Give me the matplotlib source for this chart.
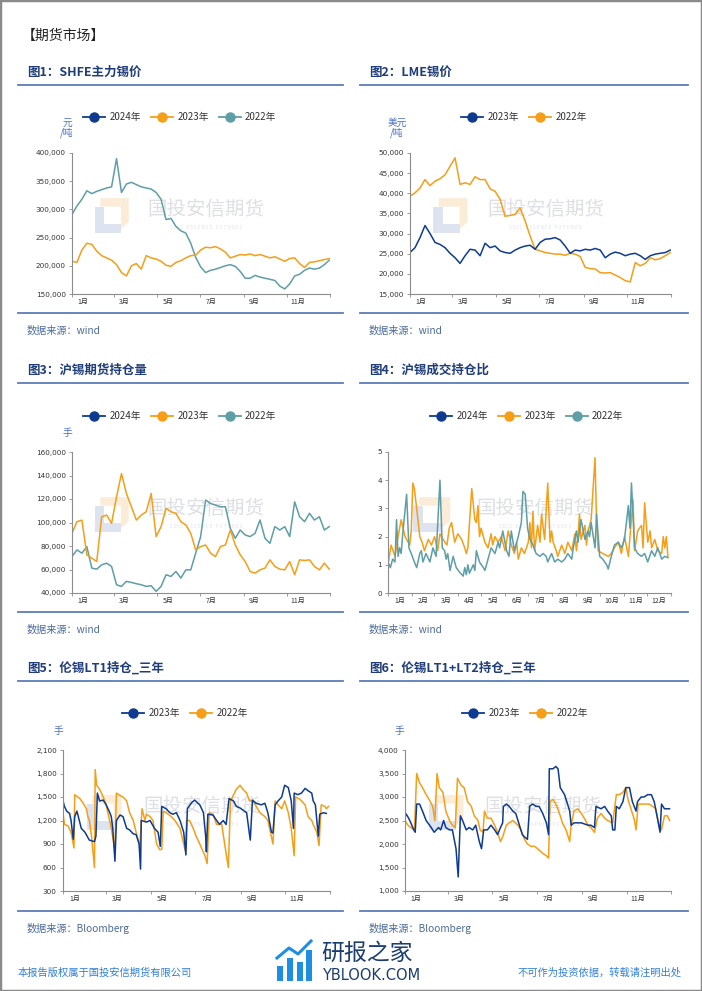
import numpy as np
import matplotlib
matplotlib.use("Agg")
import matplotlib.pyplot as plt
from matplotlib.lines import Line2D
from matplotlib.patches import Rectangle, Polygon

plt.rcParams['font.family'] = ['Noto Sans CJK SC', 'DejaVu Sans']

W, H = 702, 991
NAVY = '#0e3b8f'
ORANGE = '#f59e18'
TEAL = '#5e9ea6'
TITLE_C = '#1f3d7a'
RULE_C = '#5a7db5'
SRC_C = '#4b6b9b'

MONTH_START = [0, 31, 59, 90, 120, 151, 181, 212, 243, 273, 304, 334, 365]
MONTHS = ['1月', '2月', '3月', '4月', '5月', '6月', '7月', '8月', '9月', '10月', '11月', '12月']

# ---- fig 1: SHFE main tin price, weekly, thousand yuan/t
shfe_2023 = [208, 206, 228, 240, 238, 226, 218, 214, 210, 202, 188, 182, 200, 204, 194, 218, 214, 212,
             208, 201, 199, 206, 209, 214, 218, 219, 228, 233, 232, 234, 230, 224, 214, 217, 220, 219,
             221, 218, 220, 217, 214, 216, 212, 208, 213, 214, 204, 197, 206, 207, 209, 211, 213]
shfe_2022 = [291, 306, 318, 333, 328, 332, 335, 338, 340, 390, 330, 345, 348, 344, 340, 338, 336, 330,
             318, 282, 284, 270, 262, 258, 240, 215, 198, 188, 192, 194, 197, 200, 202, 199, 190, 178,
             178, 183, 180, 178, 176, 174, 164, 159, 168, 182, 185, 192, 196, 194, 196, 202, 210]
shfe_2024 = []

# ---- fig 2: LME tin, weekly, thousand USD/t
lme_2023 = [25.3, 26.5, 29.0, 32.0, 30.0, 27.8, 27.3, 26.5, 25.1, 24.0, 22.6, 24.5, 26.1, 25.9, 24.5,
            27.6, 26.5, 26.9, 25.7, 25.3, 25.1, 25.9, 26.5, 26.9, 27.1, 26.1, 27.8, 28.6, 28.7, 29.0,
            28.4, 26.9, 25.1, 25.9, 25.7, 26.1, 25.9, 26.3, 25.9, 24.0, 24.9, 25.4, 25.1, 24.5, 24.9,
            25.1, 24.5, 23.6, 24.5, 24.9, 25.1, 25.3, 25.9]
lme_2022 = [39.3, 40.1, 41.3, 43.4, 41.9, 43.0, 43.6, 44.6, 46.7, 48.8, 42.2, 42.6, 42.2, 44.1, 43.4,
            43.4, 41.1, 40.5, 38.5, 34.3, 34.5, 34.8, 36.4, 33.1, 29.4, 26.1, 25.7, 25.3, 25.1, 24.9,
            24.9, 24.6, 25.1, 24.9, 24.3, 21.6, 21.3, 21.2, 20.3, 20.2, 20.3, 19.7, 19.1, 18.3, 18.0,
            22.8, 22.0, 22.6, 24.0, 23.5, 23.8, 24.5, 25.3]

# ---- fig 3: SHFE tin open interest, weekly, thousand lots
oi_2023 = [90.8, 100.7, 102.0, 72.5, 69.6, 66.8, 104.9, 106.3, 99.3, 121.9, 141.6, 124.7, 113.4, 102.1,
           106.3, 109.2, 124.7, 88.0, 96.5, 112.0, 109.2, 107.8, 100.7, 97.9, 90.8, 76.7, 79.5, 80.9,
           73.9, 71.0, 79.5, 80.9, 93.6, 80.9, 72.5, 66.8, 58.3, 56.9, 59.7, 61.2, 68.2, 62.6, 60.3,
           59.7, 66.8, 55.5, 68.2, 67.7, 68.2, 62.6, 59.7, 65.4, 60.3]
oi_2022 = [71.0, 76.7, 73.9, 79.5, 61.2, 60.3, 64.0, 65.4, 62.6, 47.0, 45.6, 49.9, 49.0, 47.9, 47.0,
           45.6, 46.2, 41.4, 45.6, 55.5, 54.1, 58.3, 52.7, 59.7, 59.7, 73.9, 88.0, 119.1, 116.2, 114.8,
           113.4, 113.4, 95.0, 86.6, 93.6, 89.4, 88.0, 90.8, 102.1, 86.6, 82.3, 96.5, 93.6, 96.5, 88.0,
           117.6, 104.9, 100.7, 107.8, 102.1, 104.9, 93.6, 96.5]
oi_2024 = []

# ---- fig 4: volume / open interest ratio, (day of year, value)
vr_2023 = [(0, 1.0), (4, 1.7), (9, 1.3), (13, 2.0), (17, 2.6), (22, 2.0), (26, 1.8), (28, 1.7), (30, 2.2),
           (32, 3.9), (34, 3.7), (37, 3.0), (41, 2.0), (44, 1.8), (47, 1.5), (52, 1.9), (56, 1.7), (60, 2.0),
           (64, 1.5), (67, 2.1), (71, 1.9), (76, 1.7), (79, 2.3), (82, 2.5), (86, 1.8), (90, 2.1), (95, 1.9),
           (99, 1.6), (101, 1.4), (103, 1.6), (108, 3.7), (112, 2.6), (114, 2.5), (116, 3.1), (118, 2.0),
           (120, 2.3), (125, 1.8), (129, 1.6), (133, 2.1), (135, 1.7), (138, 2.0), (142, 1.8), (146, 2.0),
           (151, 1.5), (155, 2.2), (159, 1.7), (163, 1.4), (166, 1.8), (168, 1.2), (172, 1.6), (176, 1.4),
           (181, 1.8), (183, 2.5), (185, 1.6), (187, 2.9), (189, 1.5), (193, 2.4), (196, 1.8), (198, 2.8),
           (202, 1.9), (206, 3.9), (209, 1.8), (211, 2.2), (213, 1.8), (217, 1.5), (219, 1.3), (224, 1.7),
           (228, 1.4), (232, 1.8), (237, 1.5), (241, 2.1), (243, 1.5), (245, 2.0), (247, 2.8), (249, 1.9),
           (254, 2.4), (256, 1.7), (258, 2.2), (262, 2.6), (267, 4.8), (269, 2.5), (271, 1.5), (277, 1.4),
           (284, 1.3), (288, 1.4), (292, 1.6), (297, 1.8), (301, 1.4), (305, 2.0), (310, 1.3), (316, 3.3),
           (318, 1.5), (322, 2.2), (327, 2.4), (329, 1.6), (331, 3.2), (335, 1.8), (338, 2.2), (340, 1.6),
           (344, 1.9), (348, 1.5), (353, 1.4), (355, 2.0), (357, 1.6), (359, 2.0), (361, 1.3)]
vr_2022 = [(0, 1.1), (3, 0.9), (6, 1.2), (9, 1.1), (11, 2.6), (13, 1.3), (15, 1.6), (17, 1.4), (19, 2.1),
           (24, 3.5), (27, 1.6), (30, 1.4), (34, 1.1), (37, 0.9), (41, 1.4), (43, 1.5), (45, 1.1), (49, 1.4),
           (54, 1.1), (58, 1.6), (62, 1.3), (67, 4.0), (70, 1.6), (73, 1.5), (75, 1.2), (77, 1.4), (80, 0.8),
           (84, 1.3), (88, 0.9), (92, 0.75), (97, 0.6), (99, 0.9), (101, 0.65), (103, 1.0), (105, 0.7),
           (110, 1.0), (112, 0.8), (114, 1.5), (118, 1.1), (123, 0.9), (125, 0.8), (129, 1.2), (133, 1.6),
           (138, 1.4), (142, 1.8), (144, 1.6), (148, 2.2), (153, 1.5), (156, 1.3), (159, 2.2), (163, 1.5),
           (168, 2.0), (172, 2.5), (174, 3.6), (177, 3.5), (180, 2.3), (183, 1.9), (187, 1.7), (191, 1.4),
           (196, 1.3), (200, 1.4), (204, 1.3), (206, 1.1), (211, 1.4), (215, 1.1), (219, 1.2), (224, 1.1),
           (228, 1.2), (232, 1.4), (237, 1.2), (239, 1.6), (243, 2.2), (245, 1.8), (249, 2.6), (254, 1.9),
           (258, 2.2), (260, 2.0), (262, 2.5), (267, 1.6), (269, 2.8), (273, 1.3), (277, 1.2), (282, 1.0),
           (284, 0.85), (288, 1.3), (292, 1.7), (297, 1.8), (301, 1.6), (305, 1.9), (310, 3.1), (312, 2.3),
           (314, 3.9), (318, 1.6), (322, 1.4), (327, 1.3), (331, 1.4), (335, 1.1), (340, 1.5), (344, 1.3),
           (348, 1.6), (353, 1.2), (357, 1.3), (361, 1.25)]
vr_2024 = []

# ---- fig 5: LME LT1 open interest, (day of year, lots)
lt1_2023 = [(0, 1450), (2, 1380), (5, 1320), (9, 1290), (11, 1200), (14, 960), (16, 1250), (19, 1320),
            (25, 1100), (30, 1050), (33, 1000), (36, 950), (43, 930), (45, 1000), (47, 1550), (50, 1450),
            (55, 1460), (59, 1400), (64, 1300), (66, 1250), (68, 1100), (71, 680), (73, 1200), (78, 1270),
            (82, 1250), (87, 1100), (91, 1080), (96, 1030), (100, 1020), (104, 900), (106, 580), (107, 1200),
            (114, 1180), (119, 1200), (125, 1100), (130, 1050), (133, 870), (135, 1380), (141, 1350),
            (146, 1300), (150, 1280), (155, 1300), (160, 1200), (165, 1050), (168, 760), (170, 1350),
            (176, 1430), (180, 1460), (187, 1400), (192, 1300), (195, 1000), (196, 800), (198, 1280),
            (205, 1270), (210, 1200), (214, 1150), (219, 1200), (223, 1150), (227, 1480), (233, 1450),
            (237, 1380), (242, 1360), (251, 1300), (256, 950), (259, 1460), (264, 1420), (271, 1400),
            (276, 1420), (280, 1300), (285, 1050), (287, 1040), (290, 1400), (294, 1450), (299, 1500),
            (303, 1650), (308, 1620), (312, 1450), (315, 1100), (316, 1550), (321, 1530), (326, 1550),
            (331, 1610), (335, 1580), (340, 1550), (342, 1450), (345, 1400), (349, 1000), (351, 1280),
            (356, 1300), (360, 1290)]
lt1_2022 = [(0, 1290), (2, 1150), (7, 1130), (11, 1050), (15, 850), (16, 1530), (23, 1480), (27, 1430),
            (32, 1350), (34, 1250), (36, 1200), (39, 1000), (43, 600), (44, 1850), (46, 1650), (50, 1600),
            (55, 1500), (59, 1400), (66, 1100), (71, 820), (73, 1550), (78, 1520), (82, 1500), (87, 1450),
            (91, 1300), (96, 1200), (100, 1050), (105, 870), (108, 1350), (112, 1200), (114, 1280),
            (119, 1250), (123, 1200), (128, 900), (132, 830), (135, 830), (137, 1320), (141, 1300),
            (148, 1250), (153, 1200), (160, 1100), (165, 900), (167, 820), (169, 1200), (173, 1200),
            (178, 1100), (182, 1000), (187, 900), (194, 750), (197, 650), (200, 1300), (205, 1280),
            (210, 1150), (217, 1150), (221, 900), (226, 600), (229, 1450), (237, 1600), (242, 1650),
            (246, 1600), (251, 1550), (255, 1450), (260, 1450), (269, 1300), (276, 1250), (280, 1200),
            (287, 900), (290, 1450), (294, 1400), (299, 1350), (303, 1450), (308, 1300), (312, 1100),
            (316, 750), (318, 1500), (324, 1470), (331, 1400), (335, 1250), (340, 1200), (342, 1150),
            (347, 1050), (350, 880), (353, 1400), (358, 1380), (360, 1350), (363, 1380)]

# ---- fig 6: LME LT1+LT2 open interest, (day of year, lots)
lt12_2023 = [(0, 2550), (1, 2650), (5, 2550), (8, 2450), (12, 2300), (14, 2250), (16, 2850), (20, 2850),
             (24, 2700), (29, 2500), (36, 2350), (40, 2250), (46, 2350), (49, 2300), (53, 2500), (56, 2350),
             (61, 2300), (65, 2300), (70, 1900), (73, 1300), (76, 2600), (79, 2500), (84, 2300), (88, 2350),
             (93, 2300), (97, 2400), (102, 2050), (105, 1900), (108, 2300), (113, 2300), (118, 2400),
             (123, 2300), (127, 2200), (131, 2350), (134, 2450), (135, 2800), (139, 2850), (143, 2800),
             (148, 2700), (152, 2650), (157, 2400), (161, 2200), (164, 2150), (168, 2100), (171, 2800),
             (175, 2850), (180, 2800), (184, 2800), (189, 2650), (194, 2450), (197, 2200), (198, 3600),
             (203, 3600), (207, 3650), (210, 3600), (213, 3200), (219, 3050), (223, 2850), (226, 2700),
             (228, 2400), (232, 2450), (242, 2450), (251, 2400), (255, 2400), (260, 2350), (262, 2800),
             (269, 2750), (274, 2800), (278, 2700), (283, 2600), (285, 2300), (288, 2300), (290, 2800),
             (294, 2750), (299, 2900), (303, 3200), (308, 3200), (312, 2900), (317, 2700), (319, 2900),
             (324, 3000), (328, 3000), (333, 3050), (338, 3050), (342, 2900), (347, 2500), (350, 2250),
             (352, 2850), (356, 2750), (363, 2750)]
lt12_2022 = [(0, 2500), (4, 2400), (8, 2350), (13, 2300), (16, 3500), (20, 3300), (24, 3200), (29, 3050),
             (33, 2950), (38, 2800), (41, 2500), (44, 3500), (47, 3200), (52, 3100), (56, 2700), (61, 2500),
             (65, 2400), (69, 2350), (72, 3400), (77, 3250), (81, 3200), (86, 2900), (91, 2800), (95, 2600),
             (100, 2500), (103, 2300), (107, 2250), (109, 2700), (113, 2550), (118, 2550), (123, 2400),
             (127, 2250), (131, 2050), (134, 2150), (139, 2400), (143, 2450), (148, 2500), (155, 2400),
             (159, 2300), (164, 2100), (168, 2000), (173, 1950), (178, 1950), (182, 1900), (189, 1800),
             (194, 1750), (197, 1700), (199, 2900), (203, 2950), (207, 2850), (212, 2650), (216, 2450),
             (221, 2300), (226, 2050), (228, 2400), (232, 2700), (237, 2750), (242, 2650), (246, 2550),
             (251, 2400), (255, 2350), (260, 2250), (264, 2550), (269, 2650), (274, 2550), (278, 2500),
             (285, 2450), (290, 3050), (294, 3050), (299, 3100), (303, 3200), (306, 2950), (310, 2750),
             (315, 2500), (317, 2300), (320, 2850), (328, 2850), (335, 2850), (340, 2800), (344, 2750),
             (349, 2350), (352, 2300), (356, 2600), (360, 2600), (363, 2500)]

WEEK_DAYS = np.arange(53) * 7

fig = plt.figure(figsize=(W / 100, H / 100), dpi=100)


def fx(x):
    return x / W


def fy(y):
    return 1 - y / H


def split(pairs):
    if not pairs:
        return [], []
    d, v = zip(*pairs)
    return list(d), list(v)


def hline(x0, x1, y, color=RULE_C, lw=1.3):
    fig.add_artist(Line2D([fx(x0), fx(x1)], [fy(y), fy(y)], transform=fig.transFigure, color=color, lw=lw))


def watermark(ax):
    # faint company logo + name behind the lines
    ax.add_patch(Polygon([(0.09, 0.43), (0.19, 0.43), (0.19, 0.50), (0.125, 0.50), (0.125, 0.62), (0.09, 0.62)],
                         closed=True, transform=ax.transAxes, color='#dde3ef', zorder=0, lw=0))
    ax.add_patch(Polygon([(0.11, 0.68), (0.22, 0.68), (0.22, 0.51), (0.19, 0.46), (0.19, 0.62), (0.11, 0.62)],
                         closed=True, transform=ax.transAxes, color='#fbecd8', zorder=0, lw=0))
    ax.text(0.52, 0.6, '国投安信期货', transform=ax.transAxes, fontsize=14, color='#dddfe3',
            ha='center', va='center', zorder=0)
    ax.text(0.52, 0.47, 'S D I C   E S S E N C E   F U T U R E S', transform=ax.transAxes, fontsize=3.4,
            color='#e0e2e6', ha='center', va='center', zorder=0)


def panel(x0, x1, ytop, ybot, ylim, yticks, fmt, all_months=False):
    ax = fig.add_axes([fx(x0), fy(ybot), fx(x1 - x0), (ybot - ytop) / H])
    ax.set_xlim(0, 365)
    ax.set_ylim(*ylim)
    for s in ['top', 'right']:
        ax.spines[s].set_visible(False)
    for s in ['left', 'bottom']:
        ax.spines[s].set_color('#8c8c8c')
        ax.spines[s].set_linewidth(0.8)
    ax.set_yticks(yticks)
    ax.set_yticklabels([fmt(v) for v in yticks], fontsize=5.2, color='#333333', family='DejaVu Sans')
    ax.tick_params(axis='y', length=2.5, width=0.6, color='#8c8c8c', pad=2)
    idx = range(12) if all_months else range(0, 12, 2)
    mids = [(MONTH_START[i] + MONTH_START[i + 1]) / 2 for i in idx]
    ax.set_xticks(mids)
    ax.set_xticklabels([MONTHS[i] for i in idx], fontsize=5, color='#333333')
    ax.tick_params(axis='x', length=0, pad=3)
    ax.set_xticks(MONTH_START if all_months else MONTH_START[::2], minor=True)
    ax.tick_params(axis='x', which='minor', length=2.5, width=0.6, color='#8c8c8c')
    watermark(ax)
    return ax


def legend(ax, items, cx, cy):
    handles = [Line2D([], [], color=c, lw=1.3, marker='o', markersize=6.5) for _, c in items]
    ax.legend(handles, [t for t, _ in items], loc='center', bbox_to_anchor=(fx(cx), fy(cy)),
              bbox_transform=fig.transFigure, ncol=len(items), frameon=False, fontsize=7,
              handlelength=2.2, handletextpad=0.45, columnspacing=1.1, labelcolor='#333333')


def header(x0, x1, ytitle, yrule, ysep, ysrc, title, source):
    fig.text(fx(x0 + 9), fy(ytitle), title, fontsize=9, fontweight='bold', color=TITLE_C, va='center')
    hline(x0, x1, yrule)
    hline(x0, x1, ysep)
    fig.text(fx(x0 + 9), fy(ysrc), source, fontsize=7.3, color=SRC_C, va='center', style='italic')


def unit(x, y, s):
    fig.text(fx(x), fy(y), s, fontsize=7, color='#4a6fc7', ha='center', va='center', linespacing=1.0)


thousands = lambda v: f'{int(v):,}'
LW = 1.1

# page header
fig.text(fx(22), fy(36), '【期货市场】', fontsize=10, color='#222222', va='center', fontweight='medium')

# ---- figure 1
header(18, 343, 72, 85, 313, 331, '图1：SHFE主力锡价', '数据来源：wind')
ax1 = panel(72, 330, 153, 294, (150000, 400000), list(range(150000, 400001, 50000)), thousands)
ax1.plot(WEEK_DAYS, np.array(shfe_2022) * 1000, color=TEAL, lw=LW)
ax1.plot(WEEK_DAYS, np.array(shfe_2023) * 1000, color=ORANGE, lw=LW)
ax1.plot(WEEK_DAYS[:len(shfe_2024)], np.array(shfe_2024) * 1000, color=NAVY, lw=LW)
legend(ax1, [('2024年', NAVY), ('2023年', ORANGE), ('2022年', TEAL)], 180, 117)
unit(67, 128, '元\n/吨')

# ---- figure 2
header(360, 688, 72, 85, 313, 331, '图2：LME锡价', '数据来源：wind')
ax2 = panel(410, 671, 153, 294, (15000, 50000), list(range(15000, 50001, 5000)), thousands)
ax2.plot(WEEK_DAYS, np.array(lme_2022) * 1000, color=ORANGE, lw=LW)
ax2.plot(WEEK_DAYS, np.array(lme_2023) * 1000, color=NAVY, lw=LW)
legend(ax2, [('2023年', NAVY), ('2022年', ORANGE)], 524, 117)
unit(397, 128, '美元\n/吨')

# ---- figure 3
header(18, 343, 370, 383, 612, 630, '图3：沪锡期货持仓量', '数据来源：wind')
ax3 = panel(72, 330, 452, 593, (40000, 160000), list(range(40000, 160001, 20000)), thousands)
ax3.plot(WEEK_DAYS, np.array(oi_2022) * 1000, color=TEAL, lw=LW)
ax3.plot(WEEK_DAYS, np.array(oi_2023) * 1000, color=ORANGE, lw=LW)
ax3.plot(WEEK_DAYS[:len(oi_2024)], np.array(oi_2024) * 1000, color=NAVY, lw=LW)
legend(ax3, [('2024年', NAVY), ('2023年', ORANGE), ('2022年', TEAL)], 180, 416)
unit(67, 433, '手')

# ---- figure 4
header(360, 688, 370, 383, 612, 630, '图4：沪锡成交持仓比', '数据来源：wind')
ax4 = panel(388, 671, 452, 593, (0, 5), [0, 1, 2, 3, 4, 5], lambda v: f'{int(v)}', all_months=True)
ax4.plot(*split(vr_2023), color=ORANGE, lw=LW)
ax4.plot(*split(vr_2022), color=TEAL, lw=LW)
ax4.plot(*split(vr_2024), color=NAVY, lw=LW)
legend(ax4, [('2024年', NAVY), ('2023年', ORANGE), ('2022年', TEAL)], 527, 416)

# ---- figure 5
header(18, 343, 668, 681, 911, 928, '图5：伦锡LT1持仓_三年', '数据来源：Bloomberg')
ax5 = panel(63, 330, 750, 891, (300, 2100), list(range(300, 2101, 300)), thousands)
ax5.plot(*split(lt1_2022), color=ORANGE, lw=LW)
ax5.plot(*split(lt1_2023), color=NAVY, lw=LW)
legend(ax5, [('2023年', NAVY), ('2022年', ORANGE)], 185, 713)
unit(58, 731, '手')

# ---- figure 6
header(360, 688, 668, 681, 911, 928, '图6：伦锡LT1+LT2持仓_三年', '数据来源：Bloomberg')
ax6 = panel(405, 671, 750, 891, (1000, 4000), list(range(1000, 4001, 500)), thousands)
ax6.plot(*split(lt12_2022), color=ORANGE, lw=LW)
ax6.plot(*split(lt12_2023), color=NAVY, lw=LW)
legend(ax6, [('2023年', NAVY), ('2022年', ORANGE)], 525, 713)
unit(399, 731, '手')

# ---- footer
fig.text(fx(18), fy(973), '本报告版权属于国投安信期货有限公司', fontsize=7.4, color='#2f7fd6', va='center')
fig.text(fx(682), fy(973), '不可作为投资依据，转载请注明出处', fontsize=7.4, color='#2f7fd6', va='center', ha='right')
for bx, btop in [(277, 966), (287, 958), (297, 962), (306, 950)]:
    fig.add_artist(Rectangle((fx(bx), fy(981)), fx(6), (981 - btop) / H, transform=fig.transFigure,
                             color='#1e8fe0', lw=0))
fig.add_artist(Line2D([fx(277), fx(289), fx(298), fx(311)], [fy(958), fy(948), fy(954), fy(941)],
                      transform=fig.transFigure, color='#1e8fe0', lw=2.2))
fig.text(fx(321), fy(953), '研报之家', fontsize=16.5, color='#1b3e6e', va='center', fontweight='medium')
fig.text(fx(322), fy(975), 'YBLOOK.COM', fontsize=10.5, color='#1b3e6e', va='center', family='DejaVu Sans')

# page frame
fig.add_artist(Rectangle((0, 0), 1, 1, transform=fig.transFigure, fill=False, edgecolor='#8a8a8a', lw=2.5))

fig.savefig('out.png', dpi=100)
